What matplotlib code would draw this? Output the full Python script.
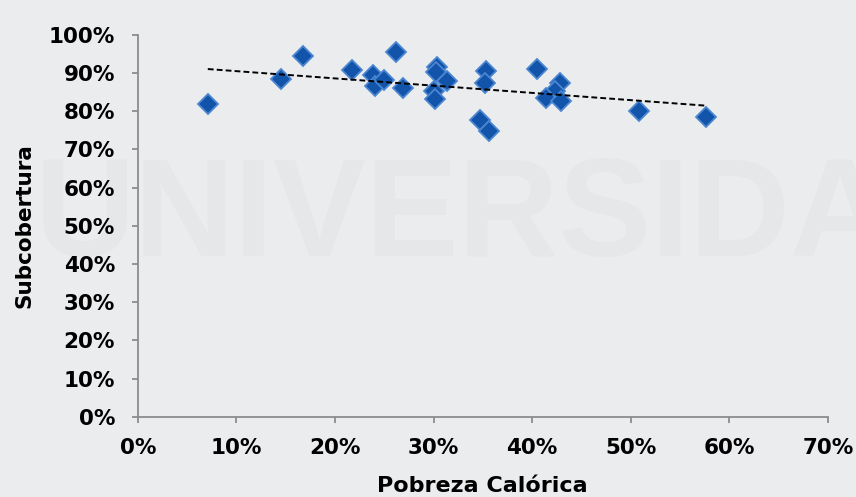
import matplotlib.pyplot as plt
from matplotlib.ticker import PercentFormatter
import numpy as np

# Pobreza calórica (x) vs subcobertura (y), em %
pobreza = [7.1, 14.5, 16.8, 21.7, 23.9, 24.1, 25.0, 26.2, 26.9, 30.4, 30.3, 31.4, 30.1,
           30.2, 35.3, 35.2, 34.7, 35.6, 40.5, 42.8, 42.3, 41.4, 42.9, 50.9, 57.6]
subcobertura = [81.8, 88.6, 94.4, 90.8, 89.5, 86.7, 88.2, 95.5, 86.0, 91.7, 90.2, 87.9, 85.3,
                83.1, 90.6, 87.5, 77.7, 74.8, 91.1, 87.3, 85.4, 83.6, 82.8, 80.1, 78.6]
x_ticks = np.arange(0, 71, 10)
y_ticks = np.arange(0, 101, 10)

BG = '#ebecee'
AXCOL = '#8c8c8c'

plt.rcParams['font.family'] = ['DejaVu Sans']

fig = plt.figure(figsize=[8.56, 4.97], dpi=100, facecolor=BG)

# marca d'agua ao fundo (atrás dos eixos)
fig.text(0.04, 0.485, "UNIVERSIDAD", fontsize=100, fontweight='bold', color='#e6e7e9',
         family='Liberation Sans', zorder=-5)

ax = fig.add_axes([0.161, 0.1616, 0.806, 0.768])
ax.set_facecolor('none')

ax.plot(pobreza, subcobertura, linestyle='none', marker='D', markersize=10.5,
        markerfacecolor='#1254a9', markeredgecolor='#4a86d2', markeredgewidth=1.3, zorder=2)

# linha de tendência linear
coef = np.polyfit(pobreza, subcobertura, 1)
xt = np.array([min(pobreza), max(pobreza)])
ax.plot(xt, np.polyval(coef, xt), color='black', linestyle=(0, (3, 1.6)), linewidth=1.4, zorder=3)

ax.set_xlim(0, 70)
ax.set_ylim(0, 100)
ax.set_xticks(x_ticks)
ax.set_yticks(y_ticks)
ax.xaxis.set_major_formatter(PercentFormatter(decimals=0))
ax.yaxis.set_major_formatter(PercentFormatter(decimals=0))

for s in ['top', 'right']:
    ax.spines[s].set_visible(False)
for s in ['left', 'bottom']:
    ax.spines[s].set_color(AXCOL)
    ax.spines[s].set_linewidth(1.3)

ax.tick_params(axis='both', direction='out', length=4, width=1.3, color=AXCOL,
               labelsize=15.5, labelcolor='black')
ax.tick_params(axis='y', pad=12.5)
ax.tick_params(axis='x', pad=11)
for lab in ax.get_xticklabels() + ax.get_yticklabels():
    lab.set_fontweight('bold')

ax.set_xlabel("Pobreza Calórica", fontsize=16, fontweight='bold', labelpad=13.5)
ax.set_ylabel("Subcobertura", fontsize=15.5, fontweight='bold', labelpad=10)

plt.savefig("out.png", dpi=100, facecolor=BG)
plt.close()
